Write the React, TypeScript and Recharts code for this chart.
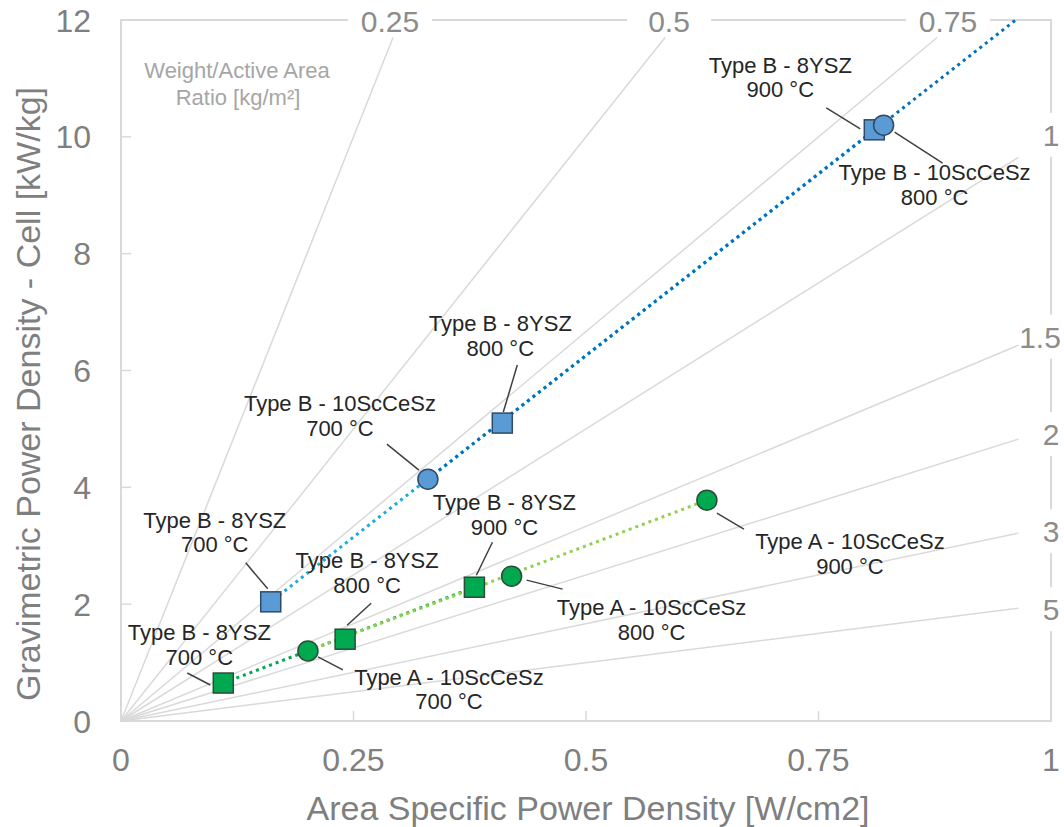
import React from "react";
import {
  ScatterChart,
  Scatter,
  XAxis,
  YAxis,
  ReferenceLine,
  ReferenceArea,
} from "recharts";

const FONT = '"Liberation Sans", Arial, sans-serif';
const AXIS_GREY = "#7f7f7f";
const GUIDE_GREY = "#d9d9d9";

// measured points: x = area specific power density [W/cm2], y = gravimetric [kW/kg]
const typeB8yszBlue = [
  { x: 0.161, y: 2.04 },
  { x: 0.41, y: 5.1 },
  { x: 0.81, y: 10.12 },
];
const typeB10ScBlue = [
  { x: 0.33, y: 4.14 },
  { x: 0.82, y: 10.2 },
];
const typeB8yszGreen = [
  { x: 0.11, y: 0.65 },
  { x: 0.241, y: 1.4 },
  { x: 0.38, y: 2.29 },
];
const typeA10ScGreen = [
  { x: 0.201, y: 1.2 },
  { x: 0.42, y: 2.48 },
  { x: 0.63, y: 3.78 },
];
// where the dark blue trendline leaves the plot
const blueTrendEnd = { x: 0.962, y: 12 };

const temps8yszBlue = ["700 °C", "800 °C", "900 °C"];
const temps10ScBlue = ["700 °C", "800 °C"];
const temps8yszGreen = ["700 °C", "800 °C", "900 °C"];
const temps10ScGreen = ["700 °C", "800 °C", "900 °C"];

// weight / active area ratios [kg/m2] for the guide rays
const ratios = [0.25, 0.5, 0.75, 1, 1.5, 2, 3, 5];

const xTicks = [0, 0.25, 0.5, 0.75, 1];
const yTicks = [0, 2, 4, 6, 8, 10, 12];

// label placement in px relative to the marker: text centre (dx, dy) and leader line
const layoutB8 = [
  { dx: -56, dy: -82, l: [-25, -39, -3, -13] },
  { dx: -2, dy: -100, l: [15, -58, 1, -11] },
  { dx: -94, dy: -65, l: [-48, -22, -14, -1] },
];
const layoutB10 = [
  { dx: -88, dy: -76, l: [-41, -35, -9, -9] },
  { dx: 51, dy: 47, l: [11, 7, 59, 38] },
];
const layoutG8 = [
  { dx: -24, dy: -51, l: [-36, -10, -13, 2] },
  { dx: 22, dy: -79, l: [26, -36, 2, -14] },
  { dx: 30, dy: -85, l: [18, -45, 2, -12] },
];
const layoutA10 = [
  { dx: 141, dy: 26, l: [10, 6, 35, 19] },
  { dx: 140, dy: 31, l: [15, 4, 51, 13] },
  { dx: 143, dy: 41, l: [10, 13, 37, 29] },
];

const annotations = [
  ...typeB8yszBlue.map((p, i) => ({ ...p, name: "Type B - 8YSZ", temp: temps8yszBlue[i], lay: layoutB8[i] })),
  ...typeB10ScBlue.map((p, i) => ({ ...p, name: "Type B - 10ScCeSz", temp: temps10ScBlue[i], lay: layoutB10[i] })),
  ...typeB8yszGreen.map((p, i) => ({ ...p, name: "Type B - 8YSZ", temp: temps8yszGreen[i], lay: layoutG8[i] })),
  ...typeA10ScGreen.map((p, i) => ({ ...p, name: "Type A - 10ScCeSz", temp: temps10ScGreen[i], lay: layoutA10[i] })),
];

// guide rays: y = 10 * x / ratio, stopped just short of the frame
const rays = ratios.map((r) => {
  if (r <= 0.75) return { r, x: (11.7 * r) / 10, y: 11.7 };
  return { r, x: 0.965, y: (10 * 0.965) / r };
});

const rayLabels = ratios.map((r) =>
  r <= 0.75
    ? { x: (12 * r) / 10, y: 12, text: String(r), top: true }
    : { x: 1, y: 10 / r, text: String(r), top: false }
);

const blankShape = () => <g />;

const squareShape = (fill: string, stroke: string) => (p: any) => (
  <rect x={p.cx - 10} y={p.cy - 10} width={20} height={20} fill={fill} stroke={stroke} strokeWidth={1.5} />
);

const circleShape = (fill: string, stroke: string) => (p: any) => (
  <circle cx={p.cx} cy={p.cy} r={10} fill={fill} stroke={stroke} strokeWidth={1.5} />
);

const AnnotationShape = (p: any) => {
  const { cx, cy, payload } = p;
  const { dx, dy, l } = payload.lay;
  return (
    <g>
      <line x1={cx + l[0]} y1={cy + l[1]} x2={cx + l[2]} y2={cy + l[3]} stroke="#404040" strokeWidth={1.5} />
      <text x={cx + dx} y={cy + dy + 8} textAnchor="middle" fontSize={22} fill="#262626" fontFamily={FONT}>
        {payload.name}
      </text>
      <text x={cx + dx} y={cy + dy + 32.5} textAnchor="middle" fontSize={22} fill="#262626" fontFamily={FONT}>
        {payload.temp}
      </text>
    </g>
  );
};

const RayLabelShape = (p: any) => {
  const { cx, cy, payload } = p;
  if (payload.top) {
    const x = cx - 10;
    return (
      <g>
        <rect x={x - 42} y={cy - 14} width={84} height={28} fill="#fff" />
        <text x={x} y={cy + 12} textAnchor="middle" fontSize={30} fill="#8c8c8c" fontFamily={FONT}>
          {payload.text}
        </text>
      </g>
    );
  }
  const y = cy + (payload.text === "1" ? -2 : 5);
  // keep wider labels inside the page edge
  const halfW = payload.text.length > 1 ? 22 : 9;
  const x = Math.min(cx, 1062 - halfW);
  return (
    <g>
      <rect x={x - 20} y={y - 22} width={44} height={44} fill="#fff" />
      <text x={x} y={y + 11} textAnchor="middle" fontSize={30} fill="#8c8c8c" fontFamily={FONT}>
        {payload.text}
      </text>
    </g>
  );
};

const XTick = (p: any) => (
  <text x={p.x} y={p.y + 50} textAnchor="middle" fontSize={32} fill={AXIS_GREY} fontFamily={FONT}>
    {p.payload.value}
  </text>
);

const YTick = (p: any) => (
  <text x={p.x - 30} y={p.y + 11.5} textAnchor="end" fontSize={32} fill={AXIS_GREY} fontFamily={FONT}>
    {p.payload.value}
  </text>
);

const dotted = (stroke: string, offset = 0) => ({
  stroke,
  strokeWidth: 3,
  strokeDasharray: "3 4",
  strokeDashoffset: offset,
});

export default function App() {
  return (
    <div style={{ width: 1064, height: 827 }}>
      <style>{`body { margin: 0; }`}</style>
      <ScatterChart width={1064} height={827} margin={{ top: 20, right: 13, bottom: 0, left: 0 }}>
        <XAxis
          type="number"
          dataKey="x"
          domain={[0, 1]}
          ticks={xTicks}
          interval={0}
          axisLine={false}
          tickLine={false}
          tickSize={0}
          tickMargin={0}
          height={106}
          tick={(p: any) => <XTick {...p} />}
        />
        <YAxis
          type="number"
          dataKey="y"
          domain={[0, 12]}
          ticks={yTicks}
          interval={0}
          axisLine={false}
          tickLine={false}
          tickSize={0}
          tickMargin={0}
          width={121}
          tick={(p: any) => <YTick {...p} />}
        />

        <ReferenceArea x1={0} x2={1} y1={0} y2={12} fill="none" fillOpacity={0} stroke={GUIDE_GREY} strokeWidth={2} />

        {rays.map((ray) => (
          <ReferenceLine
            key={"ray" + ray.r}
            segment={[{ x: 0, y: 0 }, { x: ray.x, y: ray.y }]}
            stroke={GUIDE_GREY}
            strokeWidth={1.5}
          />
        ))}
        {yTicks.slice(1, -1).map((t) => (
          <ReferenceLine key={"yt" + t} segment={[{ x: 0, y: t }, { x: 0.011, y: t }]} stroke={GUIDE_GREY} strokeWidth={1.5} />
        ))}
        {xTicks.slice(1, -1).map((t) => (
          <ReferenceLine key={"xt" + t} segment={[{ x: t, y: 0 }, { x: t, y: 0.17 }]} stroke={GUIDE_GREY} strokeWidth={1.5} />
        ))}

        {/* dotted trendlines */}
        <Scatter
          data={[typeB8yszBlue[0], typeB8yszBlue[typeB8yszBlue.length - 1]]}
          line={dotted("#1fa8e0", 3.5)}
          lineType="joint"
          shape={blankShape}
          isAnimationActive={false}
        />
        <Scatter
          data={[typeB10ScBlue[0], blueTrendEnd]}
          line={dotted("#0070c0")}
          lineType="joint"
          shape={blankShape}
          isAnimationActive={false}
        />
        <Scatter
          data={[typeB8yszGreen[0], typeB8yszGreen[typeB8yszGreen.length - 1]]}
          line={dotted("#00a84f")}
          lineType="joint"
          shape={blankShape}
          isAnimationActive={false}
        />
        <Scatter
          data={[typeA10ScGreen[0], typeA10ScGreen[typeA10ScGreen.length - 1]]}
          line={dotted("#92d050")}
          lineType="joint"
          shape={blankShape}
          isAnimationActive={false}
        />

        <Scatter data={annotations} shape={AnnotationShape} isAnimationActive={false} />

        <Scatter data={typeB8yszBlue} shape={squareShape("#5b9bd5", "#2f4a68")} isAnimationActive={false} />
        <Scatter data={typeB10ScBlue} shape={circleShape("#5b9bd5", "#2f4a68")} isAnimationActive={false} />
        <Scatter data={typeB8yszGreen} shape={squareShape("#00a84f", "#2e4a3a")} isAnimationActive={false} />
        <Scatter data={typeA10ScGreen} shape={circleShape("#00a84f", "#2e4a3a")} isAnimationActive={false} />

        <Scatter data={rayLabels} shape={RayLabelShape} isAnimationActive={false} />

        <text x={237} y={78} textAnchor="middle" fontSize={22} fill="#a6a6a6" fontFamily={FONT}>
          Weight/Active Area
        </text>
        <text x={238} y={105} textAnchor="middle" fontSize={22} fill="#a6a6a6" fontFamily={FONT}>
          Ratio [kg/m²]
        </text>
        <text x={588} y={820} textAnchor="middle" fontSize={34} fill={AXIS_GREY} fontFamily={FONT}>
          Area Specific Power Density [W/cm2]
        </text>
        <text
          transform="translate(40, 394) rotate(-90)"
          textAnchor="middle"
          fontSize={34}
          fill={AXIS_GREY}
          fontFamily={FONT}
        >
          Gravimetric Power Density - Cell [kW/kg]
        </text>
      </ScatterChart>
    </div>
  );
}
